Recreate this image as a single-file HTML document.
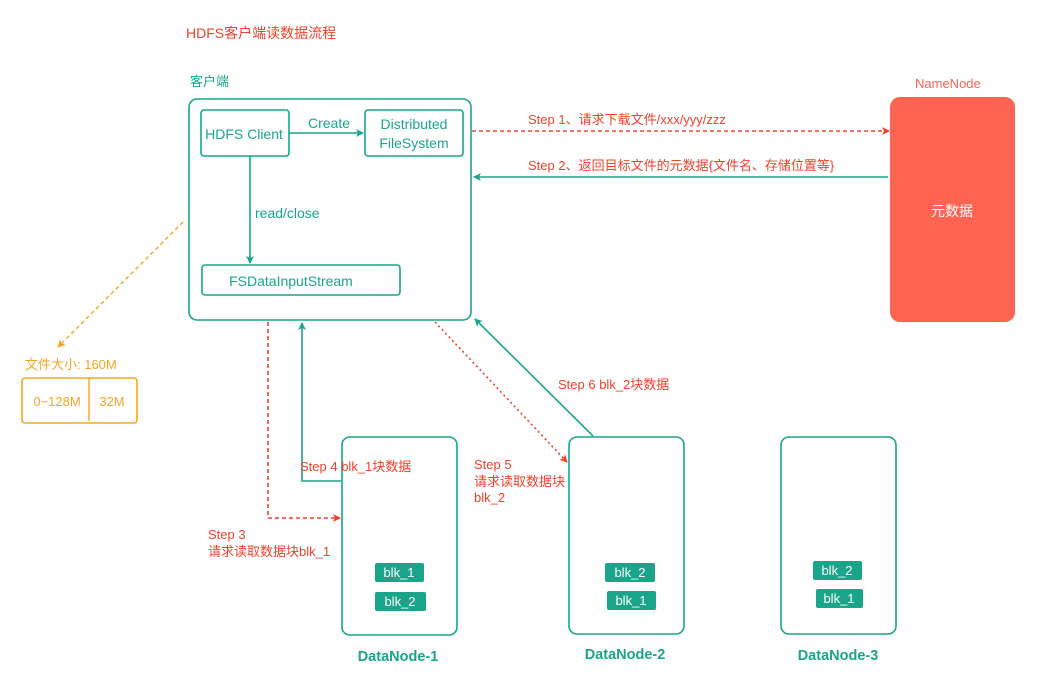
<!DOCTYPE html>
<html><head><meta charset="utf-8"><style>
html,body{margin:0;padding:0;background:#fff;width:1051px;height:676px;overflow:hidden}
svg text{font-family:"Liberation Sans","Noto Sans CJK SC",sans-serif}
</style></head><body>
<svg width="1051" height="676" viewBox="0 0 1051 676" xmlns="http://www.w3.org/2000/svg">
<defs>
<marker id="at" markerWidth="8" markerHeight="8" refX="7" refY="4" orient="auto" markerUnits="userSpaceOnUse"><path d="M0,0 L8,4 L0,8 L2,4 z" fill="#1aa58a"/></marker>
<marker id="ar" markerWidth="8" markerHeight="8" refX="7" refY="4" orient="auto" markerUnits="userSpaceOnUse"><path d="M0,0 L8,4 L0,8 L2,4 z" fill="#f0412d"/></marker>
<marker id="ao" markerWidth="8" markerHeight="8" refX="7" refY="4" orient="auto" markerUnits="userSpaceOnUse"><path d="M0,0 L8,4 L0,8 L2,4 z" fill="#f5a623"/></marker>
</defs>
<text x="186" y="38" font-size="14" fill="#f0412d">HDFS客户端读数据流程</text>
<text x="190" y="86" font-size="13" fill="#1aa58a">客户端</text>
<text x="915" y="88" font-size="13" fill="#ff6452">NameNode</text>

<g fill="none" stroke="#1aa58a" stroke-width="1.6">
<rect x="189" y="99" width="282" height="221" rx="8"/>
<rect x="201" y="110" width="88" height="46" rx="3"/>
<rect x="365" y="110" width="98" height="46" rx="3"/>
<rect x="202" y="265" width="198" height="30" rx="3"/>
<rect x="342" y="437" width="115" height="198" rx="8"/>
<rect x="569" y="437" width="115" height="197" rx="8"/>
<rect x="781" y="437" width="115" height="197" rx="8"/>
</g>
<text x="244" y="139" font-size="14" fill="#1aa58a" text-anchor="middle">HDFS Client</text>
<text x="414" y="129" font-size="14" fill="#1aa58a" text-anchor="middle">Distributed</text>
<text x="414" y="148" font-size="14" fill="#1aa58a" text-anchor="middle">FileSystem</text>
<text x="291" y="286" font-size="14" fill="#1aa58a" text-anchor="middle">FSDataInputStream</text>
<text x="329" y="128" font-size="14" fill="#1aa58a" text-anchor="middle">Create</text>
<text x="255" y="218" font-size="14" fill="#1aa58a">read/close</text>
<g stroke="#1aa58a" stroke-width="1.6" fill="none">
<line x1="289" y1="133" x2="363" y2="133" marker-end="url(#at)"/>
<line x1="250" y1="156" x2="250" y2="263" marker-end="url(#at)"/>
<line x1="888" y1="177" x2="474" y2="177" marker-end="url(#at)"/>
<polyline points="341,481 302,481 302,323" marker-end="url(#at)"/>
<line x1="593" y1="436" x2="475" y2="319" marker-end="url(#at)"/>
</g>
<g stroke="#f0412d" stroke-width="1.6" fill="none" stroke-dasharray="4,3">
<line x1="472" y1="131" x2="889" y2="131" marker-end="url(#ar)"/>
<polyline points="268,322 268,518 340,518" marker-end="url(#ar)"/>
<line x1="435" y1="322" x2="567" y2="462" stroke-dasharray="2,3" marker-end="url(#ar)"/>
</g>
<line x1="183" y1="222" x2="58" y2="347" stroke="#f5a623" stroke-width="1.4" stroke-dasharray="4,3" marker-end="url(#ao)"/>

<rect x="890" y="97" width="125" height="225" rx="10" fill="#ff6452"/>
<text x="952" y="216" font-size="14" fill="#fff" text-anchor="middle">元数据</text>

<text x="528" y="124" font-size="13" fill="#f0412d">Step 1、请求下载文件/xxx/yyy/zzz</text>
<text x="528" y="170" font-size="13" fill="#f0412d">Step 2、返回目标文件的元数据{文件名、存储位置等}</text>
<text x="300" y="471" font-size="13" fill="#f0412d">Step 4 blk_1块数据</text>
<text x="474" y="469" font-size="13" fill="#f0412d">Step 5</text>
<text x="474" y="486" font-size="13" fill="#f0412d">请求读取数据块</text>
<text x="474" y="502" font-size="13" fill="#f0412d">blk_2</text>
<text x="558" y="389" font-size="13" fill="#f0412d">Step 6 blk_2块数据</text>
<text x="208" y="539" font-size="13" fill="#f0412d">Step 3</text>
<text x="208" y="556" font-size="13" fill="#f0412d">请求读取数据块blk_1</text>

<text x="25" y="369" font-size="13" fill="#f5a623">文件大小: 160M</text>
<rect x="22" y="378" width="115" height="45" rx="3" fill="none" stroke="#f5a623" stroke-width="1.6"/>
<line x1="89" y1="378" x2="89" y2="421" stroke="#f5a623" stroke-width="1.4"/>
<text x="57" y="406" font-size="13" fill="#f5a623" text-anchor="middle">0~128M</text>
<text x="112" y="406" font-size="13" fill="#f5a623" text-anchor="middle">32M</text>

<g fill="#1aa58a">
<rect x="375" y="563" width="49" height="19" rx="2"/>
<rect x="375" y="592" width="51" height="19" rx="2"/>
<rect x="605" y="563" width="50" height="19" rx="2"/>
<rect x="607" y="591" width="49" height="19" rx="2"/>
<rect x="813" y="561" width="49" height="19" rx="2"/>
<rect x="816" y="589" width="47" height="19" rx="2"/>
</g>
<g font-size="13" fill="#fff" text-anchor="middle">
<text x="399" y="577">blk_1</text>
<text x="400" y="606">blk_2</text>
<text x="630" y="577">blk_2</text>
<text x="631" y="605">blk_1</text>
<text x="837" y="575">blk_2</text>
<text x="839" y="603">blk_1</text>
</g>
<g font-size="14.5" font-weight="bold" fill="#1aa58a" text-anchor="middle">
<text x="398" y="661">DataNode-1</text>
<text x="625" y="659">DataNode-2</text>
<text x="838" y="660">DataNode-3</text>
</g>
</svg>
</body></html>
